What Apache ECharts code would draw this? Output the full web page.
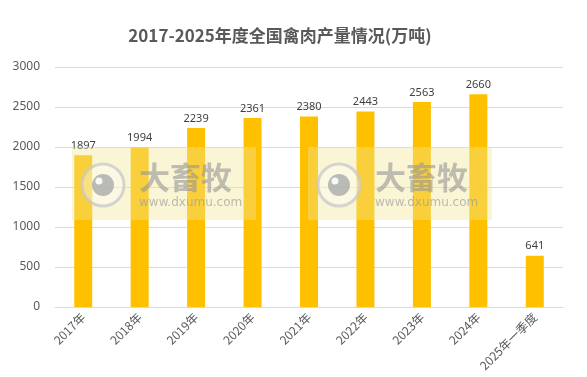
<!DOCTYPE html>
<html><head><meta charset="utf-8">
<script src="https://cdn.jsdelivr.net/npm/echarts@6/dist/echarts.min.js"></script>
<style>html,body{margin:0;padding:0;background:#fff}#c{width:587px;height:377px}</style>
</head><body><div id="c"></div>
<script>
const categories = ['2017年','2018年','2019年','2020年','2021年','2022年','2023年','2024年','2025年一季度'];
const values = [1897,1994,2239,2361,2380,2443,2563,2660,641];
const yTicks = [0,500,1000,1500,2000,2500,3000];

function watermark(x){
  return [
    {type:'rect', left:x, top:147, shape:{width:184,height:73}, style:{fill:'rgba(240,230,150,0.4)'}, z:10},
    {type:'circle', shape:{cx:x+31, cy:185, r:21}, style:{fill:'rgba(255,255,255,0.35)', stroke:'rgba(200,200,200,0.75)', lineWidth:3}, z:11},
    {type:'circle', shape:{cx:x+31, cy:185, r:11}, style:{fill:'rgba(170,170,170,0.8)'}, z:12},
    {type:'circle', shape:{cx:x+27, cy:181, r:3.5}, style:{fill:'rgba(255,255,255,0.9)'}, z:13},
    {type:'text', left:x+67, top:162, style:{text:'大畜牧', fill:'rgba(150,150,150,0.6)', font:'bold 31px "Noto Sans CJK SC"'}, z:12},
    {type:'text', left:x+67, top:197, style:{text:'www.dxumu.com', fill:'rgba(160,160,160,0.7)', font:'12px "DejaVu Sans"'}, z:12}
  ];
}

const chart = echarts.init(document.getElementById('c'));
chart.setOption({
  animation:false,
  title:{text:'2017-2025年度全国禽肉产量情况(万吨)', left:275, textAlign:'center', top:22,
    textStyle:{fontSize:17, fontWeight:'bold', color:'#595959', fontFamily:'"Noto Sans CJK SC"'}},
  grid:{left:55, right:24, top:67, bottom:70},
  xAxis:{type:'category', data:categories,
    axisLine:{lineStyle:{color:'#d9d9d9'}}, axisTick:{show:false},
    axisLabel:{rotate:45, interval:0, color:'#595959', fontSize:12, fontFamily:'"Noto Sans CJK SC"', margin:8}},
  yAxis:{type:'value', min:yTicks[0], max:yTicks[yTicks.length-1], interval:500,
    axisLine:{show:false}, axisTick:{show:false},
    splitLine:{lineStyle:{color:'#d9d9d9'}},
    axisLabel:{color:'#595959', fontSize:12, fontFamily:'"Noto Sans", sans-serif', margin:15, formatter:v=>String(v)}},
  series:[{type:'bar', data:values, barWidth:18, itemStyle:{color:'#FFC000'},
    label:{show:true, position:'top', color:'#404040', fontSize:11, fontFamily:'"Noto Sans", sans-serif', distance:4}}],
  graphic: watermark(72).concat(watermark(308))
});
</script></body></html>
